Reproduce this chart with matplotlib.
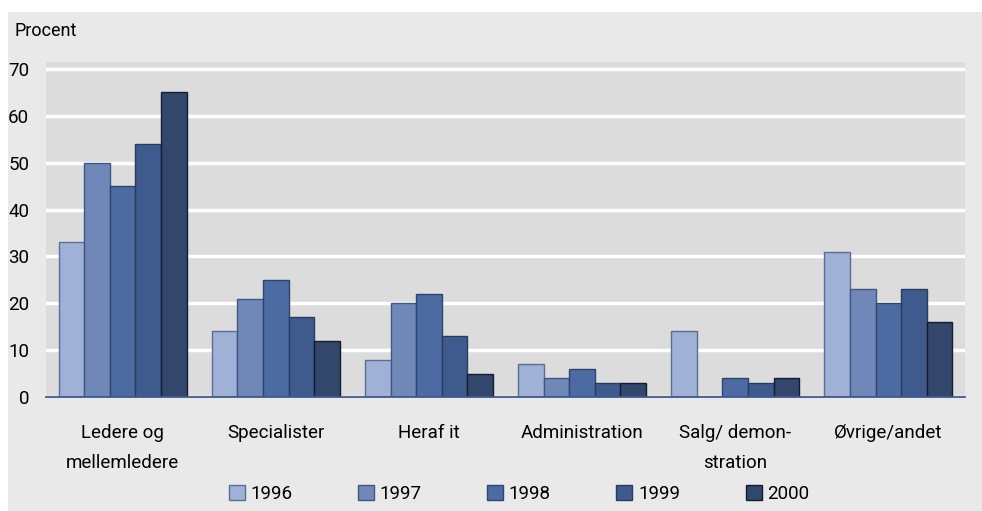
import matplotlib
matplotlib.use("Agg")
import matplotlib.pyplot as plt
from matplotlib.patches import Rectangle
import numpy as np

plt.rcParams['font.family'] = ['Roboto', 'DejaVu Sans']

categories = ["Ledere og\nmellemledere", "Specialister", "Heraf it", "Administration",
              "Salg/ demon-\nstration", "Øvrige/andet"]
years = ["1996", "1997", "1998", "1999", "2000"]
values = {
    "1996": [33, 14, 8, 7, 14, 31],
    "1997": [50, 21, 20, 4, 0, 23],
    "1998": [45, 25, 22, 6, 4, 20],
    "1999": [54, 17, 13, 3, 3, 23],
    "2000": [65, 12, 5, 3, 4, 16],
}
colors = ["#9fb1d6", "#6f88b8", "#4d6ba3", "#3f5a8c", "#33466b"]
edges = ["#5a6e94", "#3f5680", "#2e4570", "#283c62", "#141d30"]
yticks = [0, 10, 20, 30, 40, 50, 60, 70]

W, H = 982, 511
fig = plt.figure(figsize=(W/100, H/100), dpi=100)
fig.patch.set_facecolor("white")
fig.patches.append(Rectangle((8/W, 0), 1, 1 - 12/H, transform=fig.transFigure,
                             facecolor="#e9e9e9", edgecolor="none", zorder=-10))

ax = fig.add_axes([46/W, 1 - 397/H, (965-46)/W, (397-62)/H])
ax.set_facecolor("#dcdcdc")
x = np.arange(len(categories))
bw = 0.167
for i, (yr, c, ec) in enumerate(zip(years, colors, edges)):
    vals = values[yr]
    ax.bar(x + (i - 2) * bw, vals, width=bw, color=c, edgecolor=ec, linewidth=1.0,
           label=yr, zorder=3)

ax.set_xlim(-0.5, len(categories) - 0.5)
ax.set_ylim(0, 71.5)
ax.set_yticks(yticks)
ax.set_yticklabels([str(t) for t in yticks], fontsize=13.5)
ax.yaxis.grid(True, color="white", linewidth=2.5, zorder=0)
ax.set_axisbelow(True)
ax.tick_params(axis='y', length=0, pad=12)
ax.tick_params(axis='x', length=0, pad=19.5)
ax.set_xticks(x)
ax.set_xticklabels(categories, fontsize=13.5, linespacing=1.85)
for s in ["top", "right", "left"]:
    ax.spines[s].set_visible(False)
ax.spines["bottom"].set_color("#3f5a8c")
ax.spines["bottom"].set_linewidth(1.3)
ax.spines["bottom"].set_zorder(4)

fig.text(15/W, 1 - 31/H, "Procent", fontsize=13, va="center", ha="left")

leg = fig.legend(loc="center", bbox_to_anchor=(519/W, 1 - 494/H), ncol=5, frameon=False,
                 fontsize=13.5, handlelength=0.85, handleheight=0.85, columnspacing=3.5,
                 handletextpad=0.3)

fig.savefig("out.png", dpi=100, facecolor=fig.get_facecolor())
